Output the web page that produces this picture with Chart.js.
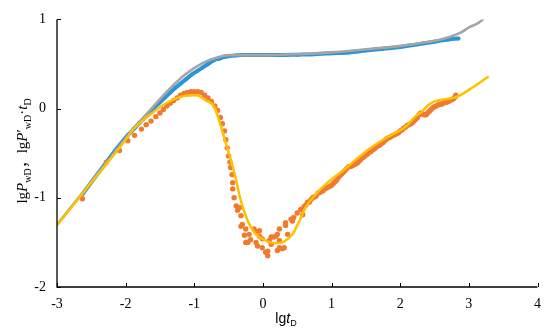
<!DOCTYPE html>
<html>
<head>
<meta charset="utf-8">
<script src="https://cdn.jsdelivr.net/npm/chart.js@4/dist/chart.umd.min.js"></script>
<style>
html,body{margin:0;padding:0;background:#fff;}
#c{display:block;}
</style>
</head>
<body>
<canvas id="c" width="550" height="333"></canvas>
<script>
// ---- tick labels ----
const xTicks = [-3, -2, -1, 0, 1, 2, 3, 4];
const yTicks = [-2, -1, 0, 1];

// ---- measured lgPwD (blue points) ----
const blueX = [-2.63,-2.28,-2.12,-1.97,-1.87,-1.80,-1.72,-1.65,-1.58,-1.50,-1.42,-1.35,-1.28,-1.20,-1.12,-1.04,-0.96,-0.88,-0.80,-0.72,-0.64,-0.56,-0.48,-0.40,-0.30,-0.20,0.00,0.25,0.50,0.75,1.00,1.25,1.50,1.75,2.00,2.25,2.50,2.70,2.85];
const blueY = [-0.96,-0.60,-0.44,-0.30,-0.22,-0.16,-0.10,-0.05,0.01,0.07,0.13,0.18,0.23,0.28,0.33,0.38,0.42,0.46,0.50,0.54,0.56,0.58,0.59,0.595,0.60,0.60,0.60,0.60,0.605,0.61,0.62,0.63,0.65,0.67,0.69,0.72,0.75,0.775,0.785];

// ---- measured lgP'wD·tD (orange points) ----
const orangeX = [-2.63,-2.28,-2.09,-1.97,-1.87,-1.77,-1.70,-1.63,-1.56,-1.50,-1.45,-1.40,-1.35,-1.30,-1.25,-1.20,-1.15,-1.10,-1.05,-1.00,-0.95,-0.90,-0.85,-0.80,-0.75,-0.70,-0.66,-0.62,-0.59,-0.56,-0.54,-0.52,-0.50,-0.48,-0.47,-0.45,-0.44,-0.44,-0.42,-0.39,-0.37,-0.34,-0.32,-0.30,-0.32,-0.27,-0.25,-0.25,-0.22,-0.20,-0.18,-0.13,-0.10,-0.10,-0.08,-0.05,-0.05,-0.01,-0.01,0.04,0.07,0.07,0.09,0.12,0.12,0.16,0.19,0.21,0.21,0.24,0.24,0.24,0.28,0.31,0.33,0.33,0.36,0.41,0.43,0.45,0.50,0.55,0.58,
  0.600,0.625,0.650,0.675,0.700,0.725,0.750,0.775,0.800,0.825,0.850,0.875,0.900,0.925,0.950,0.975,1.000,1.025,1.050,1.075,1.100,1.125,1.150,1.175,1.200,1.225,1.250,1.275,1.300,1.325,1.350,1.375,1.400,1.425,1.450,1.475,1.500,1.525,1.550,1.575,1.600,1.625,1.650,1.675,1.700,1.725,1.750,1.775,1.800,1.825,1.850,1.875,1.900,1.925,1.950,1.975,2.000,2.025,2.050,2.075,2.100,2.125,2.150,2.175,2.200,2.225,2.250,2.275,2.300,2.325,2.350,2.375,2.400,2.425,2.450,2.475,2.500,2.525,2.550,2.575,2.600,2.625,2.650,2.675,2.700,2.725,2.750,2.775,2.800,2.810];
const orangeY = [-1.01,-0.60,-0.47,-0.36,-0.30,-0.23,-0.18,-0.14,-0.09,-0.05,-0.01,0.03,0.06,0.09,0.12,0.15,0.17,0.18,0.19,0.19,0.19,0.18,0.15,0.12,0.08,0.03,-0.02,-0.10,-0.17,-0.25,-0.35,-0.44,-0.53,-0.60,-0.66,-0.74,-0.83,-0.90,-1.00,-1.09,-1.14,-1.11,-1.20,-1.30,-1.32,-1.42,-1.35,-1.50,-1.50,-1.41,-1.47,-1.35,-1.50,-1.38,-1.54,-1.43,-1.37,-1.56,-1.46,-1.61,-1.65,-1.60,-1.48,-1.44,-1.52,-1.44,-1.43,-1.41,-1.59,-1.48,-1.35,-1.56,-1.57,-1.56,-1.28,-1.31,-1.41,-1.24,-1.26,-1.22,-1.17,-1.13,-1.19,
  -1.10,-1.08,-1.05,-1.05,-1.02,-1.00,-0.99,-0.98,-0.95,-0.94,-0.93,-0.92,-0.90,-0.89,-0.88,-0.87,-0.86,-0.84,-0.82,-0.80,-0.77,-0.75,-0.73,-0.71,-0.69,-0.67,-0.65,-0.65,-0.64,-0.63,-0.62,-0.61,-0.59,-0.57,-0.55,-0.54,-0.52,-0.51,-0.49,-0.48,-0.46,-0.45,-0.43,-0.42,-0.41,-0.39,-0.38,-0.36,-0.34,-0.33,-0.32,-0.31,-0.30,-0.29,-0.28,-0.27,-0.25,-0.24,-0.22,-0.21,-0.19,-0.18,-0.17,-0.16,-0.14,-0.12,-0.10,-0.07,-0.05,-0.06,-0.07,-0.07,-0.05,-0.03,-0.01,0.01,0.02,0.03,0.04,0.05,0.05,0.06,0.07,0.07,0.08,0.09,0.10,0.11,0.13,0.15];

// ---- model lgPwD (grey curve) ----
const greyX = [-3.00,-2.50,-2.20,-1.90,-1.60,-1.36,-1.12,-0.88,-0.68,-0.49,-0.20,0.10,0.53,1.00,1.25,1.50,1.98,2.30,2.56,2.75,2.90,3.00,3.14,3.22];
const greyY = [-1.30,-0.82,-0.53,-0.24,0.02,0.22,0.39,0.51,0.57,0.60,0.60,0.60,0.61,0.63,0.645,0.665,0.70,0.735,0.77,0.81,0.86,0.91,0.96,1.01];

// ---- model lgP'wD·tD (yellow curve) ----
const yellowX = [-3.00,-2.50,-2.00,-1.90,-1.60,-1.41,-1.17,-0.97,-0.83,-0.71,-0.57,-0.47,-0.39,-0.34,-0.22,-0.10,0.04,0.19,0.31,0.43,0.53,0.62,0.77,0.94,1.16,1.50,1.79,2.08,2.22,2.32,2.41,2.50,2.61,2.70,2.85,3.00,3.29];
const yellowY = [-1.31,-0.83,-0.35,-0.24,-0.04,0.06,0.14,0.15,0.09,0.02,-0.31,-0.57,-0.80,-0.98,-1.26,-1.41,-1.48,-1.51,-1.49,-1.41,-1.26,-1.11,-0.96,-0.83,-0.70,-0.48,-0.33,-0.20,-0.09,-0.03,0.04,0.08,0.10,0.11,0.14,0.21,0.36];

const pts = (xs, ys) => xs.map((x, i) => ({x: x, y: ys[i]}));

const axisDecor = {
  id: 'axisDecor',
  afterDraw(chart) {
    const ctx = chart.ctx;
    const xs = chart.scales.x, ys = chart.scales.y;
    const a = chart.chartArea;
    ctx.save();
    ctx.strokeStyle = '#000';
    ctx.lineWidth = 1.3;
    ctx.beginPath();
    ctx.moveTo(a.left, a.top); ctx.lineTo(a.left, a.bottom); ctx.lineTo(a.right, a.bottom);
    ctx.stroke();
    ctx.lineWidth = 1;
    ctx.beginPath();
    xTicks.forEach(v => { const p = Math.round(xs.getPixelForValue(v)) + 0.5; ctx.moveTo(p, a.bottom); ctx.lineTo(p, a.bottom - 4); });
    yTicks.forEach(v => { const p = Math.round(ys.getPixelForValue(v)) + 0.5; ctx.moveTo(a.left, p); ctx.lineTo(a.left + 4, p); });
    ctx.stroke();

    // x title: lg t_D
    ctx.fillStyle = '#000';
    ctx.textBaseline = 'alphabetic';
    const xc = 286;
    const yb = 323;
    const parts = [
      {t: 'lg', f: '14px "Liberation Sans", Arial, sans-serif', dy: 0},
      {t: 't', f: 'italic 14px "Liberation Sans", Arial, sans-serif', dy: 0},
      {t: 'D', f: '9px "Liberation Sans", Arial, sans-serif', dy: 3}
    ];
    let w = 0;
    parts.forEach(p => { ctx.font = p.f; w += ctx.measureText(p.t).width; });
    let cx = xc - w / 2;
    ctx.textAlign = 'left';
    parts.forEach(p => { ctx.font = p.f; ctx.fillText(p.t, cx, yb + p.dy); cx += ctx.measureText(p.t).width; });

    // y title
    ctx.translate(27, 151);
    ctx.rotate(-Math.PI / 2);
    const serif = '"Liberation Serif", "Times New Roman", serif';
    const yp = [
      {t: 'lg', f: '15px ' + serif, dy: 0},
      {t: 'P', f: 'italic 15px ' + serif, dy: 0},
      {t: 'wD', f: '10px ' + serif, dy: 4},
      {t: '，', f: '15px "Noto Sans CJK SC", serif', dy: 0},
      {t: 'lg', f: '15px ' + serif, dy: 0},
      {t: 'P', f: 'italic 15px ' + serif, dy: 0},
      {t: '′', f: '15px ' + serif, dy: 0},
      {t: 'wD', f: '10px ' + serif, dy: 4},
      {t: '·', f: '15px ' + serif, dy: 0},
      {t: 't', f: 'italic 15px ' + serif, dy: 0},
      {t: 'D', f: '10px ' + serif, dy: 4}
    ];
    w = 0;
    yp.forEach(p => { ctx.font = p.f; w += ctx.measureText(p.t).width; });
    cx = -w / 2;
    yp.forEach(p => { ctx.font = p.f; ctx.fillText(p.t, cx, p.dy); cx += ctx.measureText(p.t).width; });
    ctx.restore();
  }
};

new Chart(document.getElementById('c'), {
  type: 'scatter',
  data: {
    datasets: [
      {label: 'yellow', type: 'line', data: pts(yellowX, yellowY), borderColor: '#FFC000', borderWidth: 2.5, pointRadius: 0, tension: 0.4, cubicInterpolationMode: 'monotone', fill: false, order: 1},
      {label: 'grey', type: 'line', data: pts(greyX, greyY), borderColor: '#A5A5A5', borderWidth: 2.6, pointRadius: 0, tension: 0.4, cubicInterpolationMode: 'monotone', fill: false, order: 2},
      {label: 'orange', data: pts(orangeX, orangeY), backgroundColor: '#F07A2E', borderWidth: 0, pointRadius: 2.7, order: 3},
      {label: 'blue', type: 'line', data: pts(blueX, blueY), borderColor: '#2896D8', backgroundColor: '#2896D8', borderWidth: 4, pointRadius: 2, pointBorderWidth: 0, tension: 0.4, cubicInterpolationMode: 'monotone', fill: false, order: 4}
    ]
  },
  options: {
    responsive: false,
    animation: false,
    devicePixelRatio: 1,
    layout: {padding: {top: 17, right: 11, left: 0, bottom: 0}},
    plugins: {legend: {display: false}, tooltip: {enabled: false}},
    scales: {
      x: {
        type: 'linear', min: -3, max: 4,
        afterFit: s => { s.height = 46; },
        afterBuildTicks: s => { s.ticks = xTicks.map(v => ({value: v})); },
        grid: {display: false, drawTicks: false},
        border: {display: false},
        ticks: {color: '#000', padding: 9, font: {family: '"Liberation Serif", "Times New Roman", serif', size: 14}, callback: v => String(v)}
      },
      y: {
        type: 'linear', min: -2, max: 1,
        afterFit: s => { s.width = 57; },
        afterBuildTicks: s => { s.ticks = yTicks.map(v => ({value: v})); },
        grid: {display: false, drawTicks: false},
        border: {display: false},
        ticks: {color: '#000', padding: 11, font: {family: '"Liberation Serif", "Times New Roman", serif', size: 14}, callback: v => String(v)}
      }
    }
  },
  plugins: [axisDecor]
});
</script>
</body>
</html>
